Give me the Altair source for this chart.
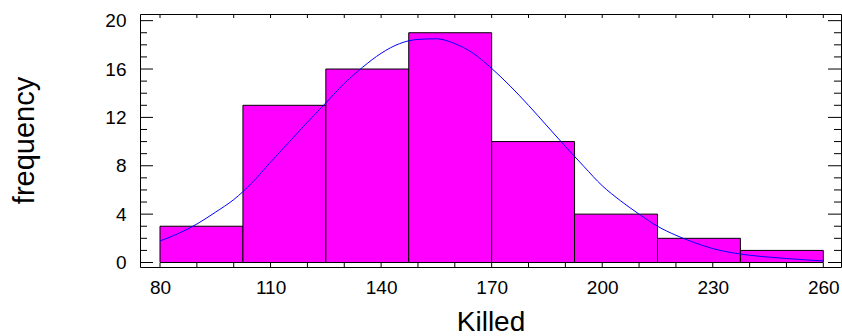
import altair as alt
import pandas as pd

# Histogram bins (edges) and counts
bin_starts = [80, 102.5, 125, 147.5, 170, 192.5, 215, 237.5]
bin_ends = [102.5, 125, 147.5, 170, 192.5, 215, 237.5, 260]
counts = [3, 13, 16, 19, 10, 4, 2, 1]

# Fitted curve
curve_x = [80, 85, 90, 95, 100, 105, 110, 115, 120, 125, 130, 135, 140, 145, 150,
           155, 160, 165, 170, 175, 180, 185, 190, 195, 200, 205, 210, 215, 220,
           225, 230, 235, 240, 245, 250, 255, 260]
curve_y = [1.78, 2.4, 3.18, 4.15, 5.2, 6.6, 8.3, 9.95, 11.6, 13.2, 14.8, 16.15, 17.3,
           18.1, 18.45, 18.5, 18.1, 17.3, 16.05, 14.6, 13.0, 11.3, 9.6, 7.95, 6.35,
           5.1, 4.0, 3.0, 2.25, 1.65, 1.15, 0.82, 0.6, 0.45, 0.33, 0.22, 0.13]

# Axis ticks
x_labels = [80, 110, 140, 170, 200, 230, 260]
x_ticks = [80, 90, 100, 110, 120, 130, 140, 150, 160, 170, 180, 190, 200, 210, 220,
           230, 240, 250, 260]
y_labels = [0, 4, 8, 12, 16, 20]
y_minor = [1, 2, 3, 5, 6, 7, 9, 10, 11, 13, 14, 15, 17, 18, 19]

W, H = 701, 253
FONT = "Liberation Sans"

bars_df = pd.DataFrame({"start": bin_starts, "end": bin_ends, "count": counts})
curve_df = pd.DataFrame({"x": curve_x, "y": curve_y})
xt_df = pd.DataFrame({"v": x_ticks})
ymaj_df = pd.DataFrame({"v": y_labels})
ymin_df = pd.DataFrame({"v": y_minor})

xscale = alt.Scale(domain=[74.57, 264.8], nice=False, zero=False)
yscale = alt.Scale(domain=[-0.372, 20.55], nice=False, zero=False)

xaxis = alt.Axis(values=x_labels, ticks=False, tickSize=0, domain=False, grid=False,
                 labelFontSize=19, labelPadding=11, labelFont=FONT, labelColor="black",
                 title="Killed", titleFontSize=28, titleFont=FONT, titleFontWeight="normal",
                 titleColor="black", titleBaseline="alphabetic", titleY=63)
yaxis = alt.Axis(values=y_labels, ticks=False, tickSize=0, domain=False, grid=False,
                 labelFontSize=19, labelPadding=14, labelFont=FONT, labelColor="black",
                 title="frequency", titleFontSize=29, titleFont=FONT, titleFontWeight="normal",
                 titleColor="black", titleBaseline="alphabetic", titleX=-107, titleY=126,
                 titleAngle=270)

bars = alt.Chart(bars_df).mark_rect(fill="#FF00FF", stroke="black", strokeWidth=1).encode(
    x=alt.X("start:Q", scale=xscale, axis=xaxis),
    x2="end:Q",
    y=alt.Y("count:Q", scale=yscale, axis=yaxis),
    y2=alt.datum(0),
)

curve = alt.Chart(curve_df).mark_line(color="#0000FF", strokeWidth=1, interpolate="monotone").encode(
    x=alt.X("x:Q", scale=xscale),
    y=alt.Y("y:Q", scale=yscale),
)

top_ticks = alt.Chart(xt_df).mark_rule(color="black", strokeWidth=1).encode(
    x=alt.X("v:Q", scale=xscale), y=alt.value(0), y2=alt.value(4))
bot_ticks = alt.Chart(xt_df).mark_rule(color="black", strokeWidth=1).encode(
    x=alt.X("v:Q", scale=xscale), y=alt.value(H - 4), y2=alt.value(H))

lmaj = alt.Chart(ymaj_df).mark_rule(color="black", strokeWidth=1).encode(
    y=alt.Y("v:Q", scale=yscale), x=alt.value(0), x2=alt.value(13))
lmin = alt.Chart(ymin_df).mark_rule(color="black", strokeWidth=1).encode(
    y=alt.Y("v:Q", scale=yscale), x=alt.value(0), x2=alt.value(7))
rmaj = alt.Chart(ymaj_df).mark_rule(color="black", strokeWidth=1).encode(
    y=alt.Y("v:Q", scale=yscale), x=alt.value(W - 13), x2=alt.value(W))
rmin = alt.Chart(ymin_df).mark_rule(color="black", strokeWidth=1).encode(
    y=alt.Y("v:Q", scale=yscale), x=alt.value(W - 7), x2=alt.value(W))

chart = alt.layer(bars, curve, top_ticks, bot_ticks, lmaj, lmin, rmaj, rmin).properties(
    width=W, height=H,
    autosize=alt.AutoSizeParams(type="none"),
    padding={"left": 140, "top": 14, "right": 1, "bottom": 69},
    background="white",
).configure_view(stroke="black", strokeWidth=1)

chart.save("out.html", embed_options={"renderer": "svg", "actions": False})
